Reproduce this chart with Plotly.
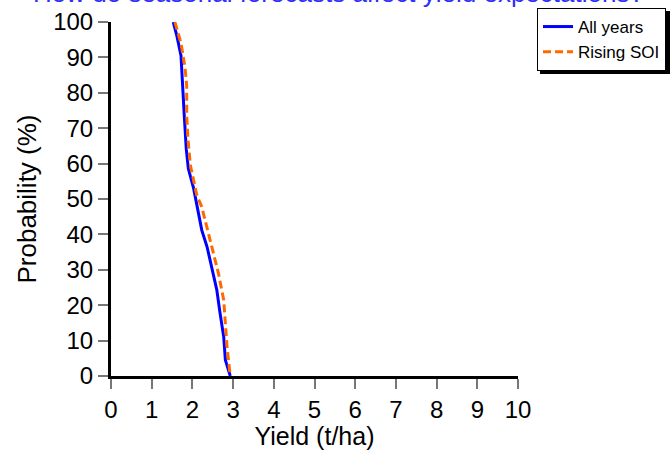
import plotly.graph_objects as go

all_years_yield = [1.53, 1.62, 1.72, 1.78, 1.80, 1.85, 1.90, 2.03, 2.11, 2.23, 2.36, 2.48, 2.60, 2.68, 2.77, 2.81, 2.93]
all_years_prob = [100, 96, 90.5, 80, 73.6, 64, 58.6, 53, 48, 41.2, 36.5, 30.8, 24.3, 17.7, 11, 4.5, 0]

rising_yield = [1.57, 1.62, 1.72, 1.82, 1.86, 1.86, 1.89, 1.95, 2.07, 2.11, 2.23, 2.36, 2.48, 2.64, 2.77, 2.81, 2.85, 2.93]
rising_prob = [100, 98, 94, 87, 82, 73.6, 67, 59.5, 52.5, 51, 47.8, 42, 36.5, 29, 21.4, 15, 8.3, 0]

x_ticks = [0, 1, 2, 3, 4, 5, 6, 7, 8, 9, 10]
y_ticks = [0, 10, 20, 30, 40, 50, 60, 70, 80, 90, 100]

title_text = "How do seasonal forecasts affect yield expectations?"
x_title = "Yield (t/ha)"
y_title = "Probability (%)"

FONT = "Liberation Sans, Arial, sans-serif"

fig = go.Figure()
fig.add_trace(go.Scatter(x=all_years_yield, y=all_years_prob, mode="lines",
                         name="All years", line=dict(color="#0000FF", width=3)))
fig.add_trace(go.Scatter(x=rising_yield, y=rising_prob, mode="lines",
                         name="Rising SOI", line=dict(color="#FF6A00", width=3, dash="8px,4px")))

W, H = 671, 450
# plot area in pixels
SX0, SX1, SY0, SY1 = 111, 518, 22, 376
L, T = SX0, SY0
R, B = W - SX1, H - SY1
pw, ph = W - L - R, H - T - B

def px2x(px):
    return (px - SX0) / pw

def py2y(py):
    return (SY1 - py) / ph

# legend drop shadow
fig.add_shape(type="rect", xref="paper", yref="paper",
              x0=px2x(540), x1=px2x(670), y0=py2y(74), y1=py2y(11),
              fillcolor="black", line=dict(width=0), layer="above")

fig.add_annotation(text=title_text, xref="paper", yref="paper",
                   x=px2x(338), y=1, xanchor="center", yanchor="bottom",
                   yshift=12, showarrow=False,
                   font=dict(family=FONT, size=26, color="#2E2EFF"))

fig.update_layout(
    width=W, height=H,
    margin=dict(l=L, r=R, t=T, b=B, pad=0, autoexpand=False),
    paper_bgcolor="white", plot_bgcolor="white",
    font=dict(family=FONT, color="black"),
    showlegend=True,
    legend=dict(x=px2x(537), y=py2y(8), xanchor="left", yanchor="top",
                bgcolor="white", bordercolor="black", borderwidth=1,
                font=dict(family=FONT, size=17, color="black"),
                tracegroupgap=0),
    xaxis=dict(range=[0, 10], tickvals=x_ticks, ticktext=[str(v) for v in x_ticks],
               showline=True, linecolor="black", linewidth=3, automargin=False,
               ticks="outside", ticklen=10, tickwidth=2, tickcolor="#777777",
               showgrid=False, zeroline=False,
               tickfont=dict(family=FONT, size=24, color="black"),
               title=dict(text=x_title, font=dict(family=FONT, size=25, color="black"), standoff=4)),
    yaxis=dict(range=[0, 100], tickvals=y_ticks, ticktext=[str(v) for v in y_ticks],
               showline=True, linecolor="black", linewidth=3, automargin=False,
               ticks="outside", ticklen=10, tickwidth=2, tickcolor="#777777",
               showgrid=False, zeroline=False,
               tickfont=dict(family=FONT, size=24, color="black"),
               title=dict(text=y_title, font=dict(family=FONT, size=26, color="black"), standoff=10)),
)

fig.write_html("out.html", config={"displayModeBar": False},
               post_script="document.body.style.margin='0';")
